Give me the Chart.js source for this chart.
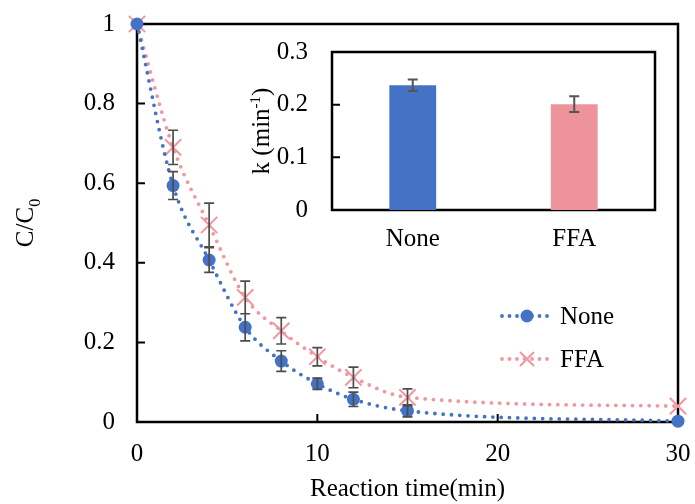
<!DOCTYPE html>
<html>
<head>
<meta charset="utf-8">
<script src="https://cdn.jsdelivr.net/npm/chart.js@4.4.1/dist/chart.umd.min.js"></script>
<style>
  html, body { margin: 0; background: #fff; }
  #wrap { position: relative; width: 695px; height: 504px; }
  #main { position: absolute; left: 0; top: 0; }
  #inset { position: absolute; left: 240px; top: 30px; }
</style>
</head>
<body>
<div id="wrap">
  <canvas id="main" width="695" height="504"></canvas>
  <canvas id="inset" width="430" height="235"></canvas>
</div>
<script>
// decay curves, C/C0 vs time
const times = [0, 2, 4, 6, 8, 10, 12, 15, 30];
const noneVals = [1, 0.594, 0.407, 0.238, 0.153, 0.096, 0.057, 0.028, 0.002];
const noneErr = [0, 0.035, 0.031, 0.034, 0.026, 0.014, 0.018, 0.015, 0];
const ffaVals = [1, 0.690, 0.495, 0.313, 0.229, 0.164, 0.112, 0.062, 0.040];
const ffaErr = [0, 0.043, 0.055, 0.041, 0.033, 0.023, 0.026, 0.021, 0];
const xTickVals = [0, 10, 20, 30];
const yTickVals = [0, 0.2, 0.4, 0.6, 0.8, 1];

// rate constants for the inset
const rateLabels = ['None', 'FFA'];
const rateVals = [0.237, 0.201];
const rateErr = [0.011, 0.015];
const rateTicks = [0, 0.1, 0.2, 0.3];

const serif = "'Liberation Serif', 'Times New Roman', serif";
const fontSize = 25;
const blue = '#4472C4';
const pink = '#F2979F';
const barPink = '#EE939C';
const errGrey = '#4d4d4d';
const dots = [0, 8.3];

const fmt = v => String(+Number(v).toFixed(2));
const noGrid = { display: false, drawTicks: false };

// fixed axis box size, no extra room for overhanging labels
const fixSize = (w, h) => s => {
  if (w != null) s.width = w;
  if (h != null) s.height = h;
  s.paddingTop = s.paddingBottom = s.paddingLeft = s.paddingRight = 0;
};

function frameAndTicks(chart, xt, yt) {
  const { ctx, chartArea: a, scales } = chart;
  ctx.save();
  ctx.strokeStyle = '#000';
  ctx.lineWidth = 2;
  ctx.beginPath();
  xt.forEach(v => {
    const x = scales.x.getPixelForValue(v);
    ctx.moveTo(x, a.bottom); ctx.lineTo(x, a.bottom - 8);
  });
  yt.forEach(v => {
    const y = scales.y.getPixelForValue(v);
    ctx.moveTo(a.left, y); ctx.lineTo(a.left + 8, y);
  });
  ctx.stroke();
  ctx.lineWidth = 2.5;
  ctx.strokeRect(a.left, a.top, a.right - a.left, a.bottom - a.top);
  ctx.restore();
}

function errBar(ctx, x, yTop, yBot, cap) {
  ctx.moveTo(x, yTop); ctx.lineTo(x, yBot);
  ctx.moveTo(x - cap, yTop); ctx.lineTo(x + cap, yTop);
  ctx.moveTo(x - cap, yBot); ctx.lineTo(x + cap, yBot);
}

// rotated axis title; x is the baseline position, parts may be shifted sub/superscripts
function sideTitle(ctx, x, y, parts) {
  ctx.save();
  ctx.translate(x, y);
  ctx.rotate(-Math.PI / 2);
  ctx.fillStyle = '#000';
  ctx.textBaseline = 'alphabetic';
  let total = 0;
  parts.forEach(p => { ctx.font = p.size + 'px ' + serif; total += ctx.measureText(p.text).width; });
  let cx = -total / 2;
  parts.forEach(p => {
    ctx.font = p.size + 'px ' + serif;
    ctx.fillText(p.text, cx, p.shift || 0);
    cx += ctx.measureText(p.text).width;
  });
  ctx.restore();
}

const mainPlugin = {
  id: 'mainDecor',
  beforeDatasetsDraw(chart) {
    frameAndTicks(chart, xTickVals, yTickVals);
  },
  afterDatasetsDraw(chart) {
    const { ctx, scales } = chart;
    ctx.save();
    ctx.strokeStyle = errGrey;
    ctx.lineWidth = 1.7;
    ctx.beginPath();
    [[noneVals, noneErr], [ffaVals, ffaErr]].forEach(([vals, errs]) => {
      times.forEach((t, i) => {
        if (!errs[i]) return;
        errBar(ctx, scales.x.getPixelForValue(t),
          scales.y.getPixelForValue(vals[i] + errs[i]),
          scales.y.getPixelForValue(vals[i] - errs[i]), 5);
      });
    });
    ctx.stroke();
    ctx.restore();
  },
  afterDraw(chart) {
    const { ctx, chartArea: a } = chart;
    sideTitle(ctx, 33, (a.top + a.bottom) / 2, [
      { text: 'C/C', size: fontSize },
      { text: '0', size: 16, shift: 7 }
    ]);

    // legend
    const items = [
      { label: 'None', color: blue, y: 316, marker: 'circle' },
      { label: 'FFA', color: pink, y: 359, marker: 'cross' }
    ];
    ctx.save();
    items.forEach(it => {
      ctx.strokeStyle = it.color;
      ctx.lineWidth = 3.8;
      ctx.lineCap = 'round';
      ctx.setLineDash([0, 7.5]);
      ctx.beginPath();
      ctx.moveTo(502, it.y); ctx.lineTo(550, it.y);
      ctx.stroke();
      ctx.setLineDash([]);
      if (it.marker === 'circle') {
        ctx.fillStyle = it.color;
        ctx.beginPath();
        ctx.arc(527, it.y, 6.5, 0, Math.PI * 2);
        ctx.fill();
      } else {
        ctx.lineWidth = 2;
        ctx.lineCap = 'butt';
        ctx.beginPath();
        ctx.moveTo(520, it.y - 7); ctx.lineTo(534, it.y + 7);
        ctx.moveTo(534, it.y - 7); ctx.lineTo(520, it.y + 7);
        ctx.stroke();
      }
      ctx.fillStyle = '#000';
      ctx.font = fontSize + 'px ' + serif;
      ctx.textBaseline = 'middle';
      ctx.fillText(it.label, 560, it.y + 1);
    });
    ctx.restore();
  }
};

const lineCommon = {
  borderWidth: 3.8,
  borderDash: dots,
  borderCapStyle: 'round',
  cubicInterpolationMode: 'monotone',
  fill: false,
  clip: false
};

new Chart(document.getElementById('main'), {
  type: 'line',
  data: {
    datasets: [
      Object.assign({
        label: 'None',
        data: times.map((t, i) => ({ x: t, y: noneVals[i] })),
        borderColor: blue,
        pointStyle: 'circle',
        pointRadius: 6.5,
        pointBackgroundColor: blue,
        pointBorderColor: blue,
        pointBorderWidth: 0
      }, lineCommon),
      Object.assign({
        label: 'FFA',
        data: times.map((t, i) => ({ x: t, y: ffaVals[i] })),
        borderColor: pink,
        pointStyle: 'crossRot',
        pointRadius: 11.5,
        pointBorderColor: pink,
        pointBorderWidth: 2
      }, lineCommon)
    ]
  },
  options: {
    responsive: false,
    animation: false,
    layout: { padding: { top: 24, right: 17, left: 0, bottom: 0 } },
    plugins: { legend: { display: false }, tooltip: { enabled: false } },
    scales: {
      x: {
        type: 'linear',
        min: 0,
        max: 30,
        afterBuildTicks: s => { s.ticks = xTickVals.map(v => ({ value: v })); },
        afterFit: fixSize(null, 82),
        grid: noGrid,
        border: { display: false },
        ticks: { font: { family: serif, size: fontSize }, color: '#000', padding: 17, maxRotation: 0, callback: fmt },
        title: {
          display: true,
          text: 'Reaction time(min)',
          font: { family: serif, size: fontSize },
          color: '#000',
          padding: { top: 0, bottom: 0 }
        }
      },
      y: {
        min: 0,
        max: 1,
        afterBuildTicks: s => { s.ticks = yTickVals.map(v => ({ value: v })); },
        afterFit: fixSize(137, null),
        grid: noGrid,
        border: { display: false },
        ticks: { font: { family: serif, size: fontSize }, color: '#000', padding: 22, callback: fmt }
      }
    }
  },
  plugins: [mainPlugin]
});

const insetPlugin = {
  id: 'insetDecor',
  beforeDatasetsDraw(chart) {
    frameAndTicks(chart, [], rateTicks.slice(1));
  },
  afterDatasetsDraw(chart) {
    const { ctx, scales } = chart;
    ctx.save();
    ctx.strokeStyle = '#555';
    ctx.lineWidth = 2;
    ctx.beginPath();
    rateVals.forEach((v, i) => {
      errBar(ctx, scales.x.getPixelForValue(i),
        scales.y.getPixelForValue(v + rateErr[i]),
        scales.y.getPixelForValue(v - rateErr[i]), 5);
    });
    ctx.stroke();
    ctx.restore();
  },
  afterDraw(chart) {
    const { ctx, chartArea: a } = chart;
    sideTitle(ctx, 29, (a.top + a.bottom) / 2, [
      { text: 'k (min', size: fontSize },
      { text: '-1', size: 15, shift: -9 },
      { text: ')', size: fontSize }
    ]);
  }
};

new Chart(document.getElementById('inset'), {
  type: 'bar',
  data: {
    labels: rateLabels,
    datasets: [{
      data: rateVals,
      backgroundColor: [blue, barPink],
      borderWidth: 0,
      barPercentage: 0.29,
      categoryPercentage: 1
    }]
  },
  options: {
    responsive: false,
    animation: false,
    layout: { padding: { top: 22, right: 15, left: 0, bottom: 0 } },
    plugins: { legend: { display: false }, tooltip: { enabled: false } },
    scales: {
      x: {
        afterFit: fixSize(null, 55),
        grid: noGrid,
        border: { display: false },
        ticks: { font: { family: serif, size: fontSize }, color: '#000', padding: 14 }
      },
      y: {
        min: 0,
        max: 0.3,
        afterBuildTicks: s => { s.ticks = rateTicks.map(v => ({ value: v })); },
        afterFit: fixSize(92, null),
        grid: noGrid,
        border: { display: false },
        ticks: { font: { family: serif, size: fontSize }, color: '#000', padding: 24, callback: fmt }
      }
    }
  },
  plugins: [insetPlugin]
});
</script>
</body>
</html>
